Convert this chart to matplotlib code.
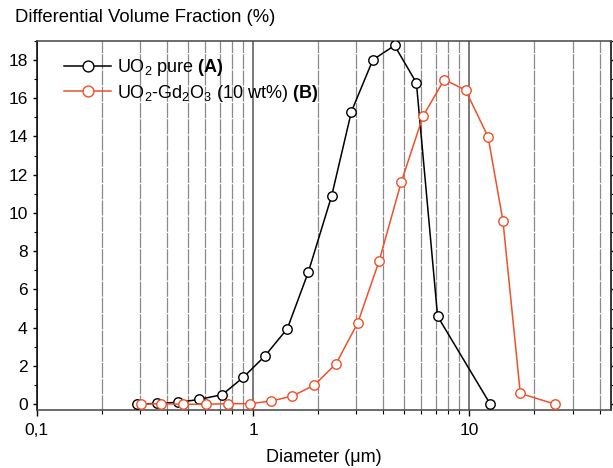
import matplotlib.pyplot as plt
from matplotlib.ticker import LogLocator, FixedLocator, FuncFormatter, MultipleLocator, NullFormatter

plt.rcParams['font.family'] = ['Liberation Sans', 'DejaVu Sans']
plt.rcParams['mathtext.fontset'] = 'custom'
plt.rcParams['mathtext.rm'] = 'Liberation Sans'
plt.rcParams['mathtext.bf'] = 'Liberation Sans:bold'
plt.rcParams['mathtext.it'] = 'Liberation Sans:italic'

# UO2 pure (A)
d_a = [0.29, 0.36, 0.45, 0.56, 0.72, 0.90, 1.13, 1.44, 1.80, 2.31, 2.85,
       3.58, 4.51, 5.69, 7.13, 12.5]
v_a = [0.0, 0.05, 0.1, 0.25, 0.5, 1.4, 2.5, 3.95, 6.9, 10.9, 15.3,
       18.0, 18.75, 16.8, 4.6, 0.0]

# UO2-Gd2O3 10 wt% (B)
d_b = [0.305, 0.374, 0.475, 0.606, 0.764, 0.97, 1.21, 1.52, 1.92, 2.42,
       3.05, 3.83, 4.84, 6.1, 7.66, 9.6, 12.2, 14.3, 17.2, 25.0]
v_b = [0.0, 0.03, 0.0, 0.0, 0.03, 0.03, 0.17, 0.43, 1.0, 2.12,
       4.26, 7.5, 11.6, 15.05, 16.97, 16.42, 13.98, 9.58, 0.57, 0.0]

red = '#F0502A'

fig = plt.figure(figsize=(6.13, 4.68), dpi=100)
ax = fig.add_axes([0.0599, 0.1239, 0.9363, 0.7891])

ax.plot(d_a, v_a, '-o', color='black', lw=1.1, ms=6.8, mfc='white',
        mec='black', mew=1.0, label=r'UO$_2$ pure $\mathbf{(A)}$', zorder=3)
ax.plot(d_b, v_b, '-o', color=red, lw=1.1, ms=6.8, mfc='white',
        mec=red, mew=1.0, label=r'UO$_2$-Gd$_2$O$_3$ (10 wt%) $\mathbf{(B)}$', zorder=3)

ax.set_xscale('log')
ax.set_xlim(0.1, 45)
ax.set_ylim(-0.3, 19)

ax.xaxis.set_major_locator(FixedLocator([0.1, 1, 10]))
ax.xaxis.set_major_formatter(FuncFormatter(lambda v, p: {0.1: '0,1', 1: '1', 10: '10'}.get(round(v, 3), '')))
ax.xaxis.set_minor_locator(LogLocator(base=10, subs=range(2, 10), numticks=20))
ax.xaxis.set_minor_formatter(NullFormatter())
ax.yaxis.set_major_locator(MultipleLocator(2))
ax.yaxis.set_minor_locator(MultipleLocator(1))

ax.grid(which='minor', axis='x', color='#8a8a8a', lw=0.9, ls=(0, (12, 1)))
ax.grid(which='major', axis='x', color='#707070', lw=1.3)
ax.set_axisbelow(True)

ax.tick_params(axis='both', which='major', direction='out', length=4, width=1,
               labelsize=12.5, colors='black')
ax.tick_params(axis='both', which='minor', direction='out', length=3, width=0.8)
ax.tick_params(axis='y', right=True, which='both', direction='in')
ax.tick_params(axis='y', left=True, which='both', direction='out')
ax.tick_params(axis='y', which='major', right=True, length=3)
ax.tick_params(axis='y', which='minor', right=True, length=2)
ax.tick_params(axis='x', which='major', pad=5)

for s in ax.spines.values():
    s.set_linewidth(1.1)
ax.spines['bottom'].set_color('#444444')
ax.spines['top'].set_color('#444444')

ax.set_xlabel('Diameter (μm)', fontsize=13, labelpad=8)
fig.text(0.024, 0.962, 'Differential Volume Fraction (%)', fontsize=13.3, va='center', ha='left')

ax.legend(loc='upper left', bbox_to_anchor=(0.035, 0.975), frameon=False,
          fontsize=13, handlelength=2.6, handletextpad=0.35, labelspacing=0.25,
          borderaxespad=0.0, markerscale=1.15)

fig.savefig('out.png', dpi=100)
